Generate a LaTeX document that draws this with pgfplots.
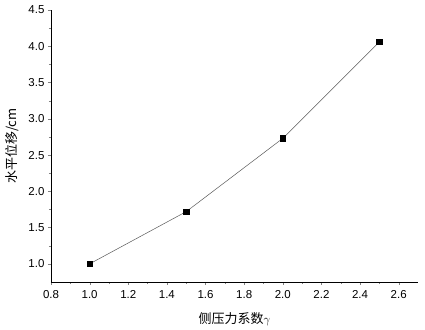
\documentclass[border=0pt]{standalone}
\usepackage{pgfplots}
\pgfplotsset{compat=1.18}
\usepackage{fontspec}
\setmainfont{Liberation Sans}
\newfontfamily\cjk{Noto Sans CJK SC}
\begin{document}
\begin{tikzpicture}
\begin{axis}[
  name=ax,
  scale only axis,
  width=367pt, height=272pt,
  xmin=0.8, xmax=2.7, ymin=0.75, ymax=4.5,
  axis lines*=left,
  tick align=outside,
  xtick={0.8,1.0,...,2.6},
  ytick={1.0,1.5,...,4.5},
  minor x tick num=1, minor y tick num=1,
  major tick length=3pt, minor tick length=2pt,
  xticklabel style={/pgf/number format/fixed,/pgf/number format/fixed zerofill,/pgf/number format/precision=1, yshift=-2pt},
  yticklabel style={/pgf/number format/fixed,/pgf/number format/fixed zerofill,/pgf/number format/precision=1},
  /pgf/number format/assume math mode=true,
  ticklabel style={font=\fontsize{11.5}{13}\selectfont},
  xlabel={{\cjk 侧压力系数}$\gamma$},
  ylabel={\cjk 水平位移/cm},
  label style={font=\fontsize{13}{15}\selectfont},
  xlabel style={yshift=-7pt},
  ylabel style={yshift=3pt},
  every axis plot/.append style={line width=0.5pt},
]
\addplot[gray!70!black, mark=square*, mark size=2.8pt, mark options={black, fill=black}]
  coordinates {(1.0,1.0) (1.5,1.72) (2.0,2.73) (2.5,4.06)};
\end{axis}
\path[use as bounding box] ([shift={(-51pt,-48pt)}]ax.south west) rectangle ([shift={(7pt,10pt)}]ax.north east);
\end{tikzpicture}
\end{document}
